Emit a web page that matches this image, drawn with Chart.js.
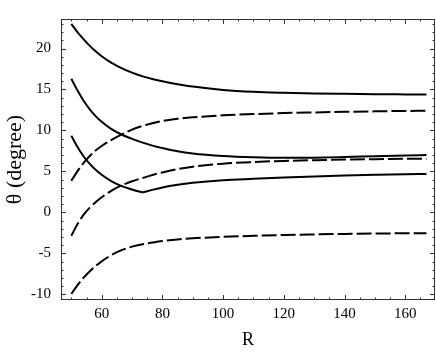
<!DOCTYPE html>
<html><head><meta charset="utf-8">
<script src="https://cdn.jsdelivr.net/npm/chart.js@4"></script>
<style>html,body{margin:0;padding:0;background:#fff}#wrap{width:436px;height:355px}</style>
</head><body><div id="wrap"><canvas id="c" width="436" height="355"></canvas></div>
<script>
// ---- data ----
const R = [50, 52, 54, 56, 58, 60, 63, 66, 70, 73.5, 77, 80, 85, 90, 100, 110, 120, 130, 140, 150, 160, 167];
const solidTop    = [23.0, 22.0, 21.15, 20.35, 19.65, 19.05, 18.3, 17.7, 17.05, 16.6, 16.25, 16.0, 15.65, 15.35, 14.95, 14.72, 14.6, 14.52, 14.47, 14.43, 14.4, 14.38];
const solidMiddle = [16.3, 14.9, 13.65, 12.6, 11.75, 11.05, 10.22, 9.6, 8.98, 8.52, 8.12, 7.85, 7.45, 7.18, 6.88, 6.73, 6.66, 6.68, 6.76, 6.86, 6.95, 7.0];
const solidLow    = [9.35, 8.0, 6.85, 5.95, 5.2, 4.6, 3.85, 3.3, 2.8, 2.42, 2.78, 3.05, 3.38, 3.62, 3.93, 4.1, 4.25, 4.38, 4.49, 4.58, 4.66, 4.7];
const dashedTop    = [3.86, 5.0, 6.0, 6.85, 7.55, 8.1, 8.8, 9.4, 10.1, 10.55, 10.92, 11.15, 11.42, 11.6, 11.84, 12.0, 12.12, 12.2, 12.27, 12.33, 12.38, 12.4];
const dashedMiddle = [-2.85, -1.45, -0.3, 0.55, 1.25, 1.85, 2.6, 3.2, 3.8, 4.2, 4.6, 4.88, 5.28, 5.58, 5.95, 6.15, 6.28, 6.37, 6.44, 6.49, 6.54, 6.56];
const dashedLow    = [-9.95, -8.9, -8.0, -7.22, -6.55, -5.97, -5.25, -4.7, -4.18, -3.88, -3.66, -3.5, -3.3, -3.16, -2.98, -2.86, -2.76, -2.69, -2.63, -2.58, -2.55, -2.53];
const solidLowKinkR = 73.5; // the lower solid curve has a corner at its minimum

const xMajorTicks = [60, 80, 100, 120, 140, 160];
const xMinorTicks = [50, 55, 65, 70, 75, 85, 90, 95, 105, 110, 115, 125, 130, 135, 145, 150, 155, 165];
const yMajorTicks = [-10, -5, 0, 5, 10, 15, 20];
const yMinorTicks = [-9, -8, -7, -6, -4, -3, -2, -1, 1, 2, 3, 4, 6, 7, 8, 9, 11, 12, 13, 14, 16, 17, 18, 19, 21, 22, 23];
const xRange = [46.6, 169.8];
const yRange = [-10.69, 23.6];
const xTitle = 'R';
const yTitle = 'θ (degree)';

const FONT = "'Liberation Serif', 'Times New Roman', serif";

function series(vals, dashed, filter) {
  const pts = R.map((r, i) => ({x: r, y: vals[i]})).filter(p => !filter || filter(p.x));
  return {
    data: pts,
    borderColor: '#000',
    borderWidth: 2,
    borderDash: dashed ? [15, 4] : [],
    pointRadius: 0,
    fill: false,
    cubicInterpolationMode: 'monotone'
  };
}

const framePlugin = {
  id: 'frame',
  afterDatasetsDraw(chart) {
    const {ctx, chartArea: a, scales: {x, y}} = chart;
    ctx.save();
    ctx.strokeStyle = '#333';
    ctx.lineWidth = 1;
    ctx.setLineDash([]);
    ctx.strokeRect(a.left + 0.5, a.top + 0.5, a.right - a.left - 1, a.bottom - a.top - 1);
    ctx.beginPath();
    const xt = (v, len) => {
      const px = Math.round(x.getPixelForValue(v)) + 0.5;
      ctx.moveTo(px, a.bottom); ctx.lineTo(px, a.bottom - len);
      ctx.moveTo(px, a.top); ctx.lineTo(px, a.top + len);
    };
    const yt = (v, len) => {
      const py = Math.round(y.getPixelForValue(v)) + 0.5;
      ctx.moveTo(a.left, py); ctx.lineTo(a.left + len, py);
      ctx.moveTo(a.right, py); ctx.lineTo(a.right - len, py);
    };
    xMajorTicks.forEach(v => xt(v, 5));
    xMinorTicks.forEach(v => xt(v, 2.5));
    yMajorTicks.forEach(v => yt(v, 5));
    yMinorTicks.forEach(v => yt(v, 2.5));
    ctx.stroke();
    ctx.restore();
  }
};

new Chart(document.getElementById('c'), {
  type: 'line',
  data: {
    datasets: [
      series(solidTop, false), series(solidMiddle, false),
      series(solidLow, false, r => r <= solidLowKinkR),
      series(solidLow, false, r => r >= solidLowKinkR),
      series(dashedTop, true), series(dashedMiddle, true), series(dashedLow, true)
    ]
  },
  options: {
    responsive: false,
    animation: false,
    devicePixelRatio: 1,
    layout: {padding: {top: 3, right: 1, left: 0, bottom: 0}},
    plugins: {legend: {display: false}, tooltip: {enabled: false}},
    scales: {
      x: {
        type: 'linear', position: 'bottom',
        min: xRange[0], max: xRange[1],
        afterBuildTicks: s => { s.ticks = xMajorTicks.map(v => ({value: v})); },
        afterFit: s => { s.height = 55; },
        grid: {display: false, drawTicks: false},
        border: {display: false},
        ticks: {color: '#000', font: {family: FONT, size: 15}, padding: 5, maxRotation: 0, autoSkip: false},
        title: {display: true, text: xTitle, color: '#000', font: {family: FONT, size: 18}, padding: {top: 0, bottom: 4}}
      },
      y: {
        type: 'linear', position: 'left',
        min: yRange[0], max: yRange[1],
        afterBuildTicks: s => { s.ticks = yMajorTicks.map(v => ({value: v})); },
        afterFit: s => { s.width = 61; },
        grid: {display: false, drawTicks: false},
        border: {display: false},
        ticks: {color: '#000', font: {family: FONT, size: 15}, padding: 10, autoSkip: false},
        title: {display: true, text: yTitle, color: '#000', font: {family: FONT, size: 22}, padding: {top: 2, bottom: 0}}
      }
    }
  },
  plugins: [framePlugin]
});
</script>
</body></html>
